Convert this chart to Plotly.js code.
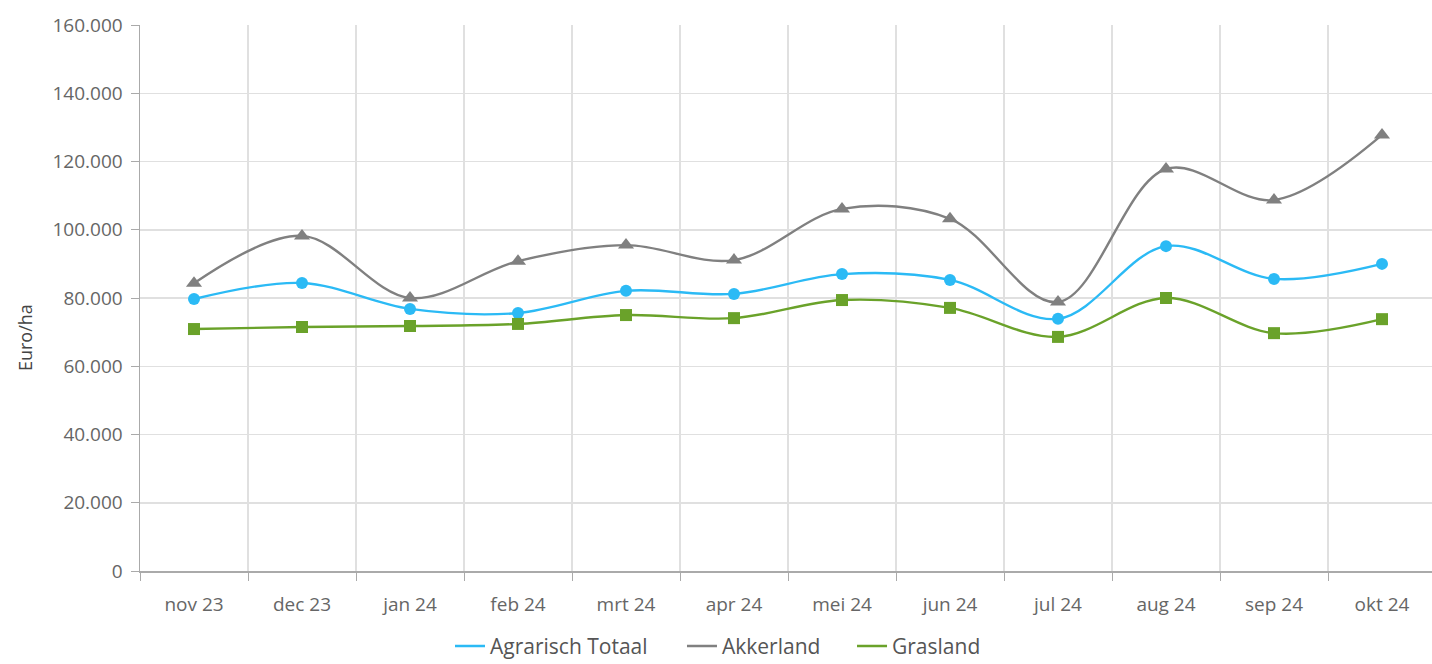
<!DOCTYPE html>
<html><head><meta charset="utf-8">
<script src="https://cdn.plot.ly/plotly-3.0.1.min.js"></script>
<style>html,body{margin:0;padding:0;overflow:hidden;background:#fff}</style>
</head><body><div id="chart"></div>
<script>
const months = ["nov 23","dec 23","jan 24","feb 24","mrt 24","apr 24","mei 24","jun 24","jul 24","aug 24","sep 24","okt 24"];
const agrarischTotaal = [79700, 84400, 76800, 75600, 82100, 81200, 87000, 85300, 73900, 95200, 85600, 90000];
const akkerland = [84300, 98200, 80000, 90800, 95500, 91100, 106100, 103200, 78800, 117800, 108700, 127800];
const grasland = [70900, 71500, 71800, 72400, 75000, 74100, 79400, 77100, 68600, 80000, 69700, 73800];
const yTicks = [0,20000,40000,60000,80000,100000,120000,140000,160000];

const series = [
  {name:"Agrarisch Totaal", y:agrarischTotaal, color:"#2bbaf5", symbol:"circle", size:12, legend:"legend", lx:0.2392},
  {name:"Akkerland", y:akkerland, color:"#808080", symbol:"triangle-up", size:14, legend:"legend2", lx:0.4182},
  {name:"Grasland", y:grasland, color:"#6aa22a", symbol:"square", size:12, legend:"legend3", lx:0.5494}
];
const traces = [];
series.forEach(s => {
  traces.push({x:months, y:s.y, type:"scatter", mode:"lines+markers", name:s.name, showlegend:false,
    line:{color:s.color, width:2.4, shape:"spline", smoothing:1}, marker:{color:s.color, symbol:s.symbol, size:s.size}, hoverinfo:"x+y"});
});
series.forEach(s => {
  traces.push({x:[months[0]], y:[null], type:"scatter", mode:"lines", name:s.name, showlegend:true, legend:s.legend,
    line:{color:s.color, width:2.4}});
});

const layout = {
  width:1436, height:664,
  margin:{l:140, r:0, t:25, b:93, autoexpand:false},
  paper_bgcolor:"#fff", plot_bgcolor:"#fff",
  separators:",.",
  font:{family:"Open Sans, Noto Sans, sans-serif", color:"#666", size:16},
  xaxis:{type:"category", tickson:"boundaries", range:[-0.5,11.5], showgrid:true, gridcolor:"#e0e0e0", gridwidth:1.5,
    ticks:"outside", ticklen:8, tickcolor:"#aaa", showline:true, linecolor:"#aaa", linewidth:1.5, zeroline:false,
    tickfont:{size:19, color:"#666"}, ticklabelstandoff:16, automargin:false},
  yaxis:{range:[0,160000], tickvals:yTicks, tickformat:",d", showgrid:true, gridcolor:"#e0e0e0", gridwidth:1.5,
    ticks:"outside", ticklen:8, tickcolor:"#aaa", showline:true, linecolor:"#aaa", linewidth:1.5, zeroline:false,
    tickfont:{size:19, color:"#666"}, ticklabelstandoff:4, automargin:false},
  annotations:[{text:"Euro/ha", xref:"paper", yref:"paper", x:-0.0887, y:0.4267, textangle:-90, showarrow:false,
    xanchor:"center", yanchor:"middle", font:{size:18, color:"#444"}}],
  showlegend:true
};
series.forEach(s => {
  layout[s.legend] = {orientation:"h", x:s.lx, xanchor:"left", y:-0.138, yanchor:"middle", font:{size:21, color:"#555"}, bgcolor:"rgba(0,0,0,0)"};
});
Plotly.newPlot("chart", traces, layout, {displayModeBar:false, staticPlot:true});
</script></body></html>
